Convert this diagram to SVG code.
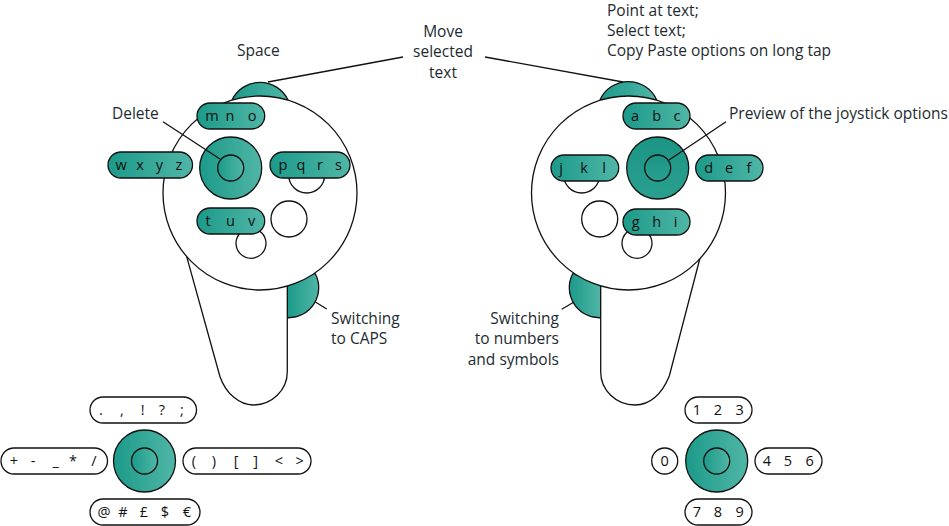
<svg xmlns="http://www.w3.org/2000/svg" width="949" height="526" viewBox="0 0 949 526">
<defs>
<linearGradient id="g" x1="0" y1="0" x2="1" y2="0"><stop offset="0" stop-color="#1c9a8a"/><stop offset="1" stop-color="#50b6a6"/></linearGradient>
<linearGradient id="g2" x1="0" y1="0" x2="0" y2="1"><stop offset="0" stop-color="#1c9585"/><stop offset="1" stop-color="#2a9f8f"/></linearGradient>
</defs>
<style>
.t{fill:url(#g);stroke:#111;stroke-width:1.3}
.d{fill:url(#g2);stroke:#111;stroke-width:1.3}
.w{fill:#fff;stroke:#111;stroke-width:1.3}
.n{fill:none;stroke:#111;stroke-width:1.3}
text{font-family:"Open Sans","Noto Sans",sans-serif;fill:#1d2b30}
.k{font-size:14.5px;text-anchor:middle;fill:#111}
.l{font-size:15.5px}
.m{text-anchor:middle}
.e{text-anchor:end}
</style>
<rect width="949" height="526" fill="#fff"/>
<g id="left-controller">
<path id="space-button" class="t" d="M232 100A31 31 0 0 1 288 100Z"/>
<path id="caps-button" class="t" d="M287.3 285L315 273.3A30 30 0 0 1 287.3 317.7Z"/>
<path id="left-handle" class="w" d="M186.7 256.7L220 376.7C226 394 240 405 253 405C272 405 287.3 390 287.3 371.7L287.3 285"/>
<circle id="left-head" class="w" cx="260" cy="193" r="97"/>
<circle class="w" cx="306.7" cy="175" r="18"/>
<circle class="w" cx="289" cy="219" r="18"/>
<circle class="w" cx="251" cy="243.3" r="15"/>
</g>
<g id="right-controller">
<path id="select-button" class="t" d="M600 100A31 31 0 0 1 656.7 100Z"/>
<path id="numbers-button" class="t" d="M600.7 285L573 273.3A30 30 0 0 0 600.7 317.7Z"/>
<path id="right-handle" class="w" d="M700 258L669.3 376C662 394 650 405 635 405C616 405 600.7 390 600.7 372L600.7 285"/>
<circle id="right-head" class="w" cx="628.5" cy="193" r="97"/>
<circle class="w" cx="581.7" cy="175" r="18"/>
<circle class="w" cx="599.7" cy="219" r="18"/>
<circle class="w" cx="637" cy="243.3" r="15"/>
</g>
<g id="joystick-delete"><circle class="t" cx="230.7" cy="168" r="31"/><circle class="t" cx="230.7" cy="168" r="13"/></g>
<g id="joystick-preview"><circle class="d" cx="657.7" cy="168" r="31"/><circle class="d" cx="657.7" cy="168" r="13"/></g>
<g id="joystick-symbols"><circle class="t" cx="144.5" cy="461" r="31"/><circle class="t" cx="144.5" cy="461" r="13"/></g>
<g id="joystick-numbers"><circle class="t" cx="716.7" cy="461" r="31"/><circle class="t" cx="716.7" cy="461" r="13"/></g>
<g id="pill-mno"><rect class="t" x="197" y="103" width="67.7" height="26" rx="13"/><text class="k" x="212" y="120.500">m</text><text class="k" x="230" y="120.500">n</text><text class="k" x="252" y="120.500">o</text></g>
<g id="pill-wxyz"><rect class="t" x="108" y="152" width="84.5" height="26" rx="13"/><text class="k" x="121" y="169.500">w</text><text class="k" x="140" y="169.500">x</text><text class="k" x="159.500" y="169.500">y</text><text class="k" x="179" y="169.500">z</text></g>
<g id="pill-pqrs"><rect class="t" x="270" y="152" width="80" height="26" rx="13"/><text class="k" x="283" y="169.500">p</text><text class="k" x="301" y="169.500">q</text><text class="k" x="320" y="169.500">r</text><text class="k" x="338.500" y="169.500">s</text></g>
<g id="pill-tuv"><rect class="t" x="197" y="208" width="67.7" height="26" rx="13"/><text class="k" x="208" y="225.500">t</text><text class="k" x="230.500" y="225.500">u</text><text class="k" x="251.500" y="225.500">v</text></g>
<g id="pill-abc"><rect class="t" x="623" y="103" width="67" height="26" rx="13"/><text class="k" x="635" y="120.500">a</text><text class="k" x="656.7" y="120.500">b</text><text class="k" x="677" y="120.500">c</text></g>
<g id="pill-jkl"><rect class="t" x="551" y="155" width="67.7" height="26" rx="13"/><text class="k" x="561" y="172.500">j</text><text class="k" x="584" y="172.500">k</text><text class="k" x="604" y="172.500">l</text></g>
<g id="pill-def"><rect class="t" x="695.7" y="155" width="67.3" height="26" rx="13"/><text class="k" x="708.7" y="172.500">d</text><text class="k" x="729" y="172.500">e</text><text class="k" x="749" y="172.500">f</text></g>
<g id="pill-ghi"><rect class="t" x="623" y="209" width="67" height="26" rx="13"/><text class="k" x="635.7" y="226.500">g</text><text class="k" x="656.7" y="226.500">h</text><text class="k" x="675.7" y="226.500">i</text></g>
<g id="pill-punct"><rect class="w" x="90" y="397" width="106.5" height="26" rx="13"/><text class="k" x="101" y="415">.</text><text class="k" x="122" y="415">,</text><text class="k" x="142.7" y="415">!</text><text class="k" x="162" y="415">?</text><text class="k" x="182" y="415">;</text></g>
<g id="pill-ops"><rect class="w" x="1" y="448" width="106.5" height="26" rx="13"/><text class="k" x="14" y="466">+</text><text class="k" x="33" y="466">-</text><text class="k" x="55.7" y="466">_</text><text class="k" x="73" y="466">*</text><text class="k" x="94" y="466">/</text></g>
<g id="pill-brackets"><rect class="w" x="183" y="448" width="128" height="26" rx="13"/><text class="k" x="194" y="466">(</text><text class="k" x="214" y="466">)</text><text class="k" x="236" y="466">[</text><text class="k" x="255.7" y="466">]</text><text class="k" x="279" y="466">&lt;</text><text class="k" x="299.7" y="466">&gt;</text></g>
<g id="pill-currency"><rect class="w" x="90" y="499" width="110" height="26" rx="13"/><text class="k" x="104" y="517">@</text><text class="k" x="123" y="517">#</text><text class="k" x="144" y="517">£</text><text class="k" x="165" y="517">$</text><text class="k" x="187" y="517">€</text></g>
<g id="pill-123"><rect class="w" x="685" y="397" width="67" height="26" rx="13"/><text class="k" x="697" y="415">1</text><text class="k" x="718" y="415">2</text><text class="k" x="739.7" y="415">3</text></g>
<g id="pill-0"><circle class="w" cx="664.7" cy="461" r="13"/><text class="k" x="664.7" y="466">0</text></g>
<g id="pill-456"><rect class="w" x="755" y="448" width="67" height="26" rx="13"/><text class="k" x="767" y="466">4</text><text class="k" x="788" y="466">5</text><text class="k" x="809.7" y="466">6</text></g>
<g id="pill-789"><rect class="w" x="685" y="499" width="67" height="26" rx="13"/><text class="k" x="697" y="517">7</text><text class="k" x="718" y="517">8</text><text class="k" x="739.7" y="517">9</text></g>
<g id="connectors">
<path class="n" d="M268 82L403 57M623 82L485 57M163 121.7L220 159M669 160L726 121.7M315 301.7L326.7 309M574 302L561.7 309.3"/>
</g>
<g id="labels">
<text class="l" x="237" y="56">Space</text>
<text class="l m" x="443" y="36.500">Move</text><text class="l m" x="443" y="57">selected</text><text class="l m" x="443" y="77.500">text</text>
<text class="l" x="607" y="16">Point at text;</text><text class="l" x="607" y="36">Select text;</text><text class="l" x="607" y="56">Copy Paste options on long tap</text>
<text class="l" x="112" y="119">Delete</text>
<text class="l" x="729" y="119">Preview of the joystick options</text>
<text class="l" x="331" y="324">Switching</text><text class="l" x="331" y="344">to CAPS</text>
<text class="l e" x="559" y="324">Switching</text><text class="l e" x="559" y="344">to numbers</text><text class="l e" x="559" y="365">and symbols</text>
</g>
</svg>
